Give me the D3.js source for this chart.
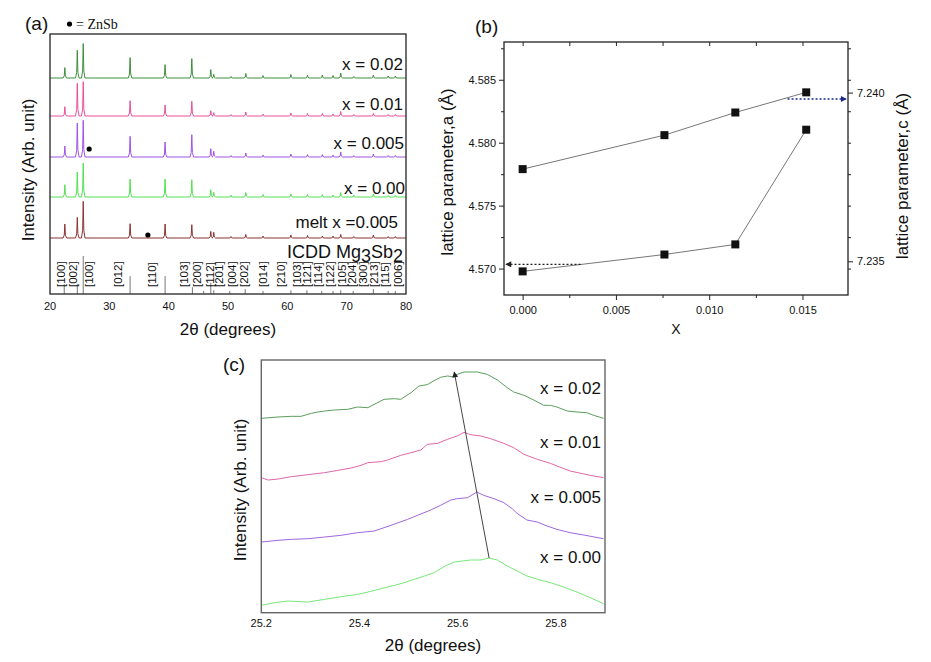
<!DOCTYPE html>
<html>
<head>
<meta charset="utf-8">
<script src="https://cdn.jsdelivr.net/npm/d3@7"></script>
<style>
body { margin: 0; background: #fff; }
text { font-family: "Liberation Sans", Arial, sans-serif; fill: #111; }
</style>
</head>
<body>
<svg id="fig" width="931" height="662"></svg>
<script>
// ---------- panel (a): XRD patterns ----------
var peakPos = [22.5, 24.6, 25.6, 33.5, 39.4, 43.9, 47.1, 47.6, 50.5, 53.0, 55.9, 60.6, 63.4, 65.9, 67.7, 69.0, 71.2, 74.5, 77.0, 78.2];
var sampleNames = ["x = 0.02", "x = 0.01", "x = 0.005", "x = 0.00", "melt x =0.005"];
var sampleOffsets = [216, 178, 137, 97, 56];
var heights002 = [10.4, 27.7, 34.4, 20.4, 13.4, 19.4, 8.4, 3.7, 1.5, 4.5, 2.5, 3.5, 3, 3, 2.5, 5, 1.5, 3, 2, 2];
var heights001 = [9.3, 32.7, 34.3, 15.3, 11, 14.7, 5.3, 3.3, 1.5, 4, 2, 3, 2.5, 2.5, 2, 4.5, 1.5, 2.5, 1.5, 1.5];
var heights0005 = [11, 34, 36.7, 20.7, 15, 22.3, 8.3, 5.7, 1.5, 4, 2, 3, 2.5, 2.5, 2, 5, 1.5, 3, 1.5, 1.5];
var heights000 = [12.3, 25, 34, 18, 18, 17.3, 7.3, 4.7, 2, 4.5, 2.5, 3, 2.5, 2.5, 2, 4.5, 2, 3, 1.5, 1.5];
var heightsMelt = [14, 20.6, 36.6, 14.3, 14, 13.3, 6.6, 5.7, 1.5, 3.5, 2, 3, 2.5, 2, 2, 3.5, 1.5, 3, 1.5, 1.5];
var znsbDots = [[26.6, 145], [36.5, 59]];

var icddPos = [22.4, 24.6, 25.6, 33.5, 39.4, 44.0, 45.9, 47.1, 47.6, 50.3, 52.9, 55.9, 60.6, 63.3, 65.8, 67.7, 69.0, 71.1, 74.5, 77.0, 78.2];
var icddInt = [26, 26, 100, 47, 47, 18, 8, 29, 10, 8, 13, 8, 10, 10, 8, 8, 10, 8, 13, 8, 8];
var hklText = ["[100]", "[002]", "[100]", "[012]", "[110]", "[103]", "[200]", "[112]", "[201]", "[004]", "[202]", "[014]",
  "[210]", "[103]", "[121]", "[114]", "[122]", "[105]", "[204]", "[300]", "[213]", "[115]", "[006]"];
var hklPos = [21.8, 23.9, 26.6, 31.5, 37.2, 42.5, 44.8, 47.0, 48.4, 50.6, 52.7, 55.9, 59.0, 61.6, 63.3, 65.1, 67.2, 69.2, 70.9, 72.8, 74.6, 76.5, 78.6];
var xTicksA = [20, 30, 40, 50, 60, 70, 80];

// ---------- panel (b): lattice parameters ----------
var xContent = [0, 0.0076, 0.0114, 0.0152];
var latticeA = [4.5779, 4.5806, 4.5824, 4.5840];
var latticeC = [7.2347, 7.2352, 7.2355, 7.2389];

// ---------- panel (c): zoom on main peak ----------
var peak002 = [[25.200,583],[25.234,587],[25.261,589],[25.281,589],[25.302,598],[25.315,602],[25.329,605],[25.349,608],[25.376,610],[25.396,617],
  [25.417,615],[25.434,628],[25.450,640],[25.471,642],[25.484,640],[25.505,660],[25.521,680],[25.538,684],[25.552,696],[25.565,706],
  [25.579,710],[25.589,708],[25.599,715],[25.613,722],[25.640,722],[25.660,715],[25.681,698],[25.701,675],[25.714,662],[25.735,652],
  [25.755,638],[25.775,622],[25.789,622],[25.802,617],[25.823,605],[25.843,602],[25.863,600],[25.877,592],[25.897,583]];
var peak001 = [[25.200,405],[25.214,398],[25.234,401],[25.261,408],[25.295,414],[25.329,420],[25.356,427],[25.383,434],[25.403,442],[25.417,450],
  [25.444,453],[25.457,458],[25.484,472],[25.505,480],[25.525,488],[25.538,505],[25.559,508],[25.579,520],[25.599,530],[25.613,541],
  [25.626,534],[25.647,530],[25.667,522],[25.694,508],[25.714,495],[25.735,475],[25.762,460],[25.789,448],[25.802,440],[25.829,425],
  [25.870,412],[25.897,405]];
var peak0005 = [[25.200,212],[25.234,217],[25.261,220],[25.295,222],[25.329,227],[25.362,232],[25.396,240],[25.430,245],[25.464,262],[25.498,280],
  [25.518,292],[25.545,308],[25.565,322],[25.586,338],[25.599,342],[25.620,345],[25.639,362],[25.653,352],[25.674,342],[25.694,330],
  [25.711,312],[25.721,298],[25.741,278],[25.762,272],[25.782,260],[25.802,250],[25.829,240],[25.857,233],[25.897,222]];
var peak000 = [[25.200,22],[25.227,30],[25.254,35],[25.295,32],[25.329,40],[25.362,48],[25.396,55],[25.417,62],[25.444,72],[25.471,82],
  [25.491,90],[25.511,100],[25.532,110],[25.552,120],[25.572,138],[25.593,152],[25.626,158],[25.647,158],[25.664,164],[25.681,158],
  [25.701,140],[25.721,125],[25.741,110],[25.768,98],[25.789,90],[25.816,77],[25.843,62],[25.870,45],[25.897,27]];
var shiftArrow = [[25.664, 164], [25.593, 722]];
var xTicksC = [25.2, 25.4, 25.6, 25.8];

var svg = d3.select("#fig");
svg.append("rect").attr("width", 931).attr("height", 662).attr("fill", "#fff");

var defs = svg.append("defs");
function arrowMarker(id, color) {
  defs.append("marker").attr("id", id)
    .attr("viewBox", "0 0 10 10").attr("refX", 9).attr("refY", 5)
    .attr("markerWidth", 7).attr("markerHeight", 6).attr("orient", "auto")
    .attr("markerUnits", "userSpaceOnUse")
    .append("path").attr("d", "M0,0 L10,5 L0,10 z").attr("fill", color);
}
arrowMarker("arrBlue", "#1b2a8c");
arrowMarker("arrBlack", "#222");

// ================= panel (a) =================
var xA = d3.scaleLinear().domain([20, 80]).range([50, 406]);
var yA = d3.scaleLinear().domain([0, 260]).range([294, 34]);
var yIcdd = d3.scaleLinear().domain([0, 100]).range([294, 256]);
var ga = svg.append("g");

// narrow peak shape used to draw each read peak height
var profile = [[-0.3, 0], [-0.1, 0.2], [0, 1], [0.1, 0.2], [0.3, 0]];
function spectrum(heights) {
  var pts = [[20, 0]];
  peakPos.forEach(function(p, i) {
    profile.forEach(function(q) { pts.push([p + q[0], heights[i] * q[1]]); });
  });
  pts.push([80, 0]);
  return pts;
}
var allHeights = [heights002, heights001, heights0005, heights000, heightsMelt];
var colorsA = ["#3d8f3d", "#e8509a", "#a052e6", "#52e052", "#8c3232"];
var labelLift = [8, 6, 8, 3, 10];
var labelRight = [403, 403, 404, 405, 398];

allHeights.forEach(function(h, k) {
  var off = sampleOffsets[k];
  var line = d3.line().x(function(d) { return xA(d[0]); }).y(function(d) { return yA(off + d[1]); });
  ga.append("path").attr("d", line(spectrum(h)))
    .attr("fill", "none").attr("stroke", colorsA[k]).attr("stroke-width", 1);
  ga.append("text").attr("x", labelRight[k]).attr("y", yA(off) - labelLift[k])
    .attr("text-anchor", "end").attr("font-size", 17).text(sampleNames[k]);
});

ga.selectAll("circle.znsb").data(znsbDots).enter().append("circle")
  .attr("cx", function(d) { return xA(d[0]); }).attr("cy", function(d) { return yA(d[1]); })
  .attr("r", 2.6).attr("fill", "#000");

// ICDD reference sticks
ga.selectAll("line.icdd").data(icddPos).enter().append("line")
  .attr("x1", function(d) { return xA(d); }).attr("x2", function(d) { return xA(d); })
  .attr("y1", yIcdd(0)).attr("y2", function(d, i) { return yIcdd(icddInt[i]); })
  .attr("stroke", "#777").attr("stroke-width", 1);
ga.selectAll("text.hkl").data(hklText).enter().append("text")
  .attr("transform", function(d, i) { return "translate(" + (xA(hklPos[i]) + 4) + ",287) rotate(-90)"; })
  .attr("font-size", 11.5).text(function(d) { return d; });

var icdd = ga.append("text").attr("x", 403).attr("y", 258).attr("text-anchor", "end").attr("font-size", 18);
icdd.append("tspan").text("ICDD Mg");
icdd.append("tspan").attr("dy", 4).text("3");
icdd.append("tspan").attr("dy", -4).text("Sb");
icdd.append("tspan").attr("dy", 4).text("2");

ga.append("rect").attr("x", 50).attr("y", 34).attr("width", 356).attr("height", 260)
  .attr("fill", "none").attr("stroke", "#333").attr("stroke-width", 1.4);
ga.selectAll("text.xt").data(xTicksA).enter().append("text")
  .attr("x", function(d) { return xA(d); }).attr("y", 310).attr("text-anchor", "middle")
  .attr("font-size", 11).text(function(d) { return d; });
ga.append("text").attr("x", 228).attr("y", 335).attr("text-anchor", "middle").attr("font-size", 17).text("2θ (degrees)");
ga.append("text").attr("transform", "translate(34,170) rotate(-90)").attr("text-anchor", "middle")
  .attr("font-size", 17).text("Intensity (Arb. unit)");
ga.append("text").attr("x", 25).attr("y", 30).attr("font-size", 19).text("(a)");
ga.append("circle").attr("cx", 69.5).attr("cy", 24).attr("r", 2.6).attr("fill", "#000");
ga.append("text").attr("x", 76).attr("y", 29).attr("font-size", 14)
  .style("font-family", "'Liberation Serif', 'Times New Roman', serif").text("= ZnSb");

// ================= panel (b) =================
var xB = d3.scaleLinear().domain([-0.001, 0.01744]).range([504, 848]);
var yBa = d3.scaleLinear().domain([4.5679, 4.5880]).range([295, 42]);
var yBc = d3.scaleLinear().domain([7.2340, 7.2415]).range([295, 42]);
var gb = svg.append("g");
var f3 = d3.format(".3f");

function styleAxis(g) {
  g.select(".domain").remove();
  g.selectAll("line").attr("stroke", "#222");
  g.selectAll("text").attr("font-size", 11).attr("fill", "#333")
    .style("font-family", "'Liberation Sans', Arial, sans-serif");
}
gb.append("g").attr("transform", "translate(0,295)")
  .call(d3.axisBottom(xB).tickValues([0, 0.005, 0.01, 0.015]).tickFormat(f3).tickSize(5).tickPadding(6)).call(styleAxis);
gb.append("g").attr("transform", "translate(0,295)")
  .call(d3.axisBottom(xB).tickValues([0.0025, 0.0075, 0.0125]).tickFormat("").tickSize(3)).call(styleAxis);
gb.append("g").attr("transform", "translate(0,42)")
  .call(d3.axisBottom(xB).tickValues([0, 0.0025, 0.005, 0.0075, 0.01, 0.0125, 0.015]).tickFormat("").tickSize(4)).call(styleAxis);
gb.append("g").attr("transform", "translate(504,0)")
  .call(d3.axisLeft(yBa).tickValues([4.570, 4.575, 4.580, 4.585]).tickFormat(f3).tickSize(5).tickPadding(3)).call(styleAxis);
gb.append("g").attr("transform", "translate(504,0)")
  .call(d3.axisLeft(yBa).tickValues([4.5725, 4.5775, 4.5825, 4.5875]).tickFormat("").tickSize(3)).call(styleAxis);
gb.append("g").attr("transform", "translate(848,0)")
  .call(d3.axisRight(yBc).tickValues([7.235, 7.240]).tickFormat(f3).tickSize(5).tickPadding(4)).call(styleAxis);
gb.append("g").attr("transform", "translate(848,0)")
  .call(d3.axisRight(yBa).tickValues([4.5725, 4.5775, 4.5825, 4.5875, 4.570, 4.575, 4.580, 4.585]).tickFormat("").tickSize(3)).call(styleAxis);

gb.append("rect").attr("x", 504).attr("y", 42).attr("width", 344).attr("height", 253)
  .attr("fill", "none").attr("stroke", "#222").attr("stroke-width", 1.3);

var lineA = d3.line().x(function(d, i) { return xB(xContent[i]); }).y(function(d) { return yBa(d); });
var lineC = d3.line().x(function(d, i) { return xB(xContent[i]); }).y(function(d) { return yBc(d); });
gb.append("path").attr("d", lineA(latticeA)).attr("fill", "none").attr("stroke", "#777").attr("stroke-width", 1);
gb.append("path").attr("d", lineC(latticeC)).attr("fill", "none").attr("stroke", "#777").attr("stroke-width", 1);
gb.selectAll("rect.ma").data(latticeA).enter().append("rect")
  .attr("x", function(d, i) { return xB(xContent[i]) - 4; }).attr("y", function(d) { return yBa(d) - 4; })
  .attr("width", 8).attr("height", 8).attr("fill", "#111");
gb.selectAll("rect.mc").data(latticeC).enter().append("rect")
  .attr("x", function(d, i) { return xB(xContent[i]) - 4; }).attr("y", function(d) { return yBc(d) - 4; })
  .attr("width", 8).attr("height", 8).attr("fill", "#111");

// axis-pointer arrows
gb.append("line").attr("x1", xB(0.0142)).attr("x2", xB(0.01735)).attr("y1", yBa(4.58347)).attr("y2", yBa(4.58347))
  .attr("stroke", "#1b2a8c").attr("stroke-width", 1.5).attr("stroke-dasharray", "2,2").attr("marker-end", "url(#arrBlue)");
gb.append("line").attr("x1", xB(0.0031)).attr("x2", xB(-0.0009)).attr("y1", yBa(4.57034)).attr("y2", yBa(4.57034))
  .attr("stroke", "#222").attr("stroke-width", 1.3).attr("stroke-dasharray", "2,2").attr("marker-end", "url(#arrBlack)");

gb.append("text").attr("x", 676).attr("y", 334).attr("text-anchor", "middle").attr("font-size", 14).text("X");
gb.append("text").attr("transform", "translate(453,172) rotate(-90)").attr("text-anchor", "middle")
  .attr("font-size", 17).text("lattice parameter,a (Å)");
gb.append("text").attr("transform", "translate(908,176) rotate(-90)").attr("text-anchor", "middle")
  .attr("font-size", 17).text("lattice parameter,c (Å)");
gb.append("text").attr("x", 475).attr("y", 33).attr("font-size", 19).text("(b)");

// ================= panel (c) =================
var xC = d3.scaleLinear().domain([25.2, 25.9]).range([261.3, 605]);
var yC = d3.scaleLinear().domain([0, 758]).range([612.7, 360]);
var gc = svg.append("g");
var curvesC = [peak002, peak001, peak0005, peak000];
var colorsC = ["#5c9e5c", "#e066aa", "#a066e0", "#78e878"];
var namesC = ["x = 0.02", "x = 0.01", "x = 0.005", "x = 0.00"];
var labelYC = [394, 448, 503, 563];
var lineCurve = d3.line().x(function(d) { return xC(d[0]); }).y(function(d) { return yC(d[1]); });

curvesC.forEach(function(c, k) {
  gc.append("path").attr("d", lineCurve(c)).attr("fill", "none").attr("stroke", colorsC[k]).attr("stroke-width", 1);
  gc.append("text").attr("x", 601).attr("y", labelYC[k]).attr("text-anchor", "end").attr("font-size", 17).text(namesC[k]);
});
gc.append("line")
  .attr("x1", xC(shiftArrow[0][0])).attr("y1", yC(shiftArrow[0][1]))
  .attr("x2", xC(shiftArrow[1][0])).attr("y2", yC(shiftArrow[1][1]))
  .attr("stroke", "#444").attr("stroke-width", 1).attr("marker-end", "url(#arrBlack)");

gc.append("rect").attr("x", 261.3).attr("y", 360).attr("width", 343.7).attr("height", 252.7)
  .attr("fill", "none").attr("stroke", "#666").attr("stroke-width", 1.4);
gc.selectAll("text.xt").data(xTicksC).enter().append("text")
  .attr("x", function(d) { return xC(d); }).attr("y", 627).attr("text-anchor", "middle")
  .attr("font-size", 11).text(function(d) { return d.toFixed(1); });
gc.append("text").attr("x", 433).attr("y", 651).attr("text-anchor", "middle").attr("font-size", 17).text("2θ (degrees)");
gc.append("text").attr("transform", "translate(246,490) rotate(-90)").attr("text-anchor", "middle")
  .attr("font-size", 17).text("Intensity (Arb. unit)");
gc.append("text").attr("x", 223).attr("y", 371).attr("font-size", 19).text("(c)");
</script>
</body>
</html>
